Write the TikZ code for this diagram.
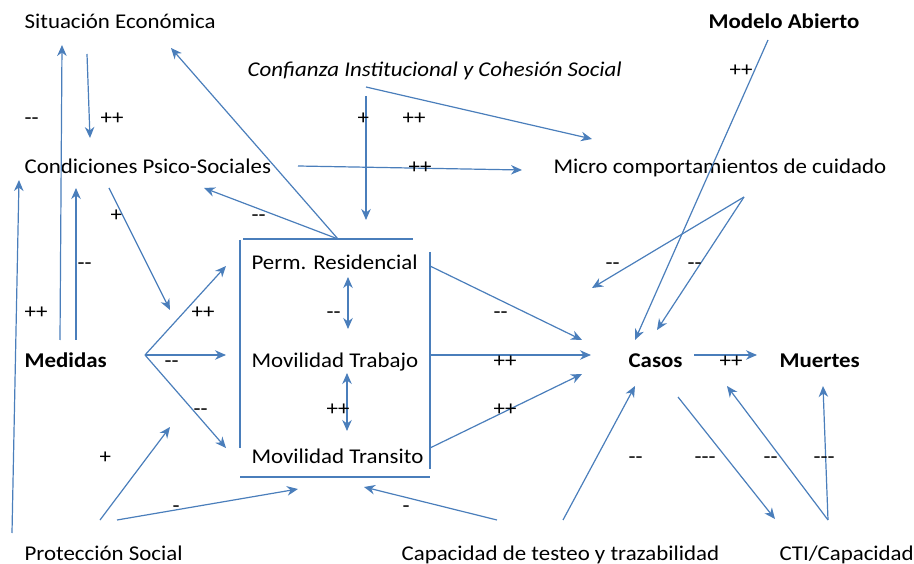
\documentclass[tikz,border=0pt]{standalone}
\usepackage{fontspec}
\setmainfont{Carlito}[Ligatures=TeXOff,FakeStretch=1.09]
\usepackage{tikz}
\usetikzlibrary{arrows.meta}
\definecolor{linkblue}{RGB}{74,126,187}

\tikzset{
  var/.style={anchor=base west,inner sep=0pt},
  sign/.style={anchor=base west,inner sep=0pt},
  every edge/.style={draw=linkblue}
}

\begin{document}
\begin{tikzpicture}[x=1pt,y=-1pt,->,>={Stealth[length=11pt,width=9.5pt,inset=3.5pt]},
                    line width=1.2pt,font=\fontsize{21}{25}\selectfont]
            \useasboundingbox (0,0) rectangle (914,564);

            % variables
            \node [var] (sitecon)    at (24,29)   {Situación Económica};
            \node [var] (confianza)  at (247,77)  {\itshape Confianza Institucional y Cohesión Social};
            \node [var] (modelo)     at (708,29)  {\bfseries Modelo Abierto};
            \node [var] (condpsico)  at (24,174)  {Condiciones Psico-Sociales};
            \node [var] (micro)      at (553,174) {Micro comportamientos de cuidado};
            \node [var] (perm)       at (251,270) {Perm. Residencial};
            \node [var] (trabajo)    at (251,367) {Movilidad Trabajo};
            \node [var] (transito)   at (251,463) {Movilidad Transito};
            \node [var] (medidas)    at (24,367)  {\bfseries Medidas};
            \node [var] (casos)      at (628,367) {\bfseries Casos};
            \node [var] (muertes)    at (779,367) {\bfseries Muertes};
            \node [var] (proteccion) at (24,560)  {Protección Social};
            \node [var] (testeo)     at (401,560) {Capacidad de testeo y trazabilidad};
            \node [var] (cti)        at (779,560) {CTI/Capacidad};

            % box round the mobility block
            \draw [-,linkblue] (243,239) -- (413,239);
            \draw [-,linkblue] (240,240) -- (240,448);
            \draw [-,linkblue] (240,477) -- (430,477);
            \draw [-,linkblue] (430,252) -- (430,469);

            % loose ends
            \coordinate (medL)   at (60,340);   \coordinate (sitL)   at (62,45);
            \coordinate (sitD)   at (87,54);    \coordinate (condU)  at (90,138);
            \coordinate (medR)   at (76,340);   \coordinate (condB)  at (76,188);
            \coordinate (protL)  at (12,533);   \coordinate (condL)  at (19,180);
            \coordinate (condR)  at (109,188);  \coordinate (permIn) at (170,310);
            \coordinate (boxT)   at (338,239);  \coordinate (sitR)   at (171,48);
            \coordinate (condE)  at (204,188);
            \coordinate (confV)  at (366,96);   \coordinate (boxIn)  at (366,220);
            \coordinate (confS)  at (366,87);   \coordinate (microU) at (592,139);
            \coordinate (condS)  at (298,166);  \coordinate (microW) at (522,170);
            \coordinate (modB)   at (768,40);   \coordinate (casU)   at (635,340);
            \coordinate (microB) at (744,197);  \coordinate (casNW)  at (592,288);
            \coordinate (casNE)  at (657,330);
            \coordinate (medE)   at (145,355);
            \coordinate (permW)  at (226,266);  \coordinate (trabW)  at (226,355);
            \coordinate (tranW)  at (226,448);
            \coordinate (protU)  at (100,520);  \coordinate (tranIn) at (170,427);
            \coordinate (protR)  at (117,520);  \coordinate (boxBL)  at (298,489);
            \coordinate (testL)  at (497,520);  \coordinate (boxBR)  at (364,487);
            \coordinate (permE)  at (430,266);  \coordinate (casW1)  at (582,340);
            \coordinate (trabE)  at (430,355);  \coordinate (casW2)  at (591,355);
            \coordinate (tranE)  at (430,448);  \coordinate (casW3)  at (582,374);
            \coordinate (testU)  at (563,520);  \coordinate (casS)   at (635,386);
            \coordinate (casE)   at (694,355);  \coordinate (muerW)  at (757,355);
            \coordinate (casSE)  at (678,397);  \coordinate (ctiU)   at (775,519);
            \coordinate (ctiT)   at (828,520);  \coordinate (casSE2) at (727,386);
            \coordinate (muerS)  at (823,386);
            \coordinate (permS)  at (348,277);  \coordinate (trabN)  at (348,329);
            \coordinate (trabS)  at (347,373);  \coordinate (tranN)  at (347,431);

            \path
            (medL)   edge (sitL)
            (sitD)   edge (condU)
            (medR)   edge (condB)
            (protL)  edge (condL)
            (condR)  edge (permIn)
            (boxT)   edge (sitR)
                     edge (condE)
            (confV)  edge (boxIn)
            (confS)  edge (microU)
            (condS)  edge (microW)
            (modB)   edge (casU)
            (microB) edge (casNW)
                     edge (casNE)
            (medE)   edge (permW)
                     edge (trabW)
                     edge (tranW)
            (protU)  edge (tranIn)
            (protR)  edge (boxBL)
            (testL)  edge (boxBR)
            (permE)  edge (casW1)
            (trabE)  edge (casW2)
            (tranE)  edge (casW3)
            (testU)  edge (casS)
            (casE)   edge (muerW)
            (casSE)  edge (ctiU)
            (ctiT)   edge (casSE2)
                     edge (muerS)
            (permS)  edge [<->] (trabN)
            (trabS)  edge [<->] (tranN);

            % signs
            \node [sign] (s1)  at (24,125)  {--};
            \node [sign] (s2)  at (100,125) {++};
            \node [sign] (s3)  at (357,125) {+};
            \node [sign] (s4)  at (402,125) {++};
            \node [sign] (s5)  at (729,77)  {++};
            \node [sign] (s6)  at (408,174) {++};
            \node [sign] (s7)  at (110,222) {+};
            \node [sign] (s8)  at (251,222) {--};
            \node [sign] (s9)  at (77,270)  {--};
            \node [sign] (s10) at (605,270) {--};
            \node [sign] (s11) at (687,270) {--};
            \node [sign] (s12) at (24,319)  {++};
            \node [sign] (s13) at (191,319) {++};
            \node [sign] (s14) at (326,319) {--};
            \node [sign] (s15) at (493,319) {--};
            \node [sign] (s16) at (164,367) {--};
            \node [sign] (s17) at (493,367) {++};
            \node [sign] (s18) at (719,367) {++};
            \node [sign] (s19) at (193,415) {--};
            \node [sign] (s20) at (326,415) {++};
            \node [sign] (s21) at (493,415) {++};
            \node [sign] (s22) at (99,463)  {+};
            \node [sign] (s23) at (628,463) {--};
            \node [sign] (s24) at (694,463) {---};
            \node [sign] (s25) at (763,463) {--};
            \node [sign] (s26) at (813,463) {---};
            \node [sign] (s27) at (172,512) {-};
            \node [sign] (s28) at (402,512) {-};
        \end{tikzpicture}
\end{document}
